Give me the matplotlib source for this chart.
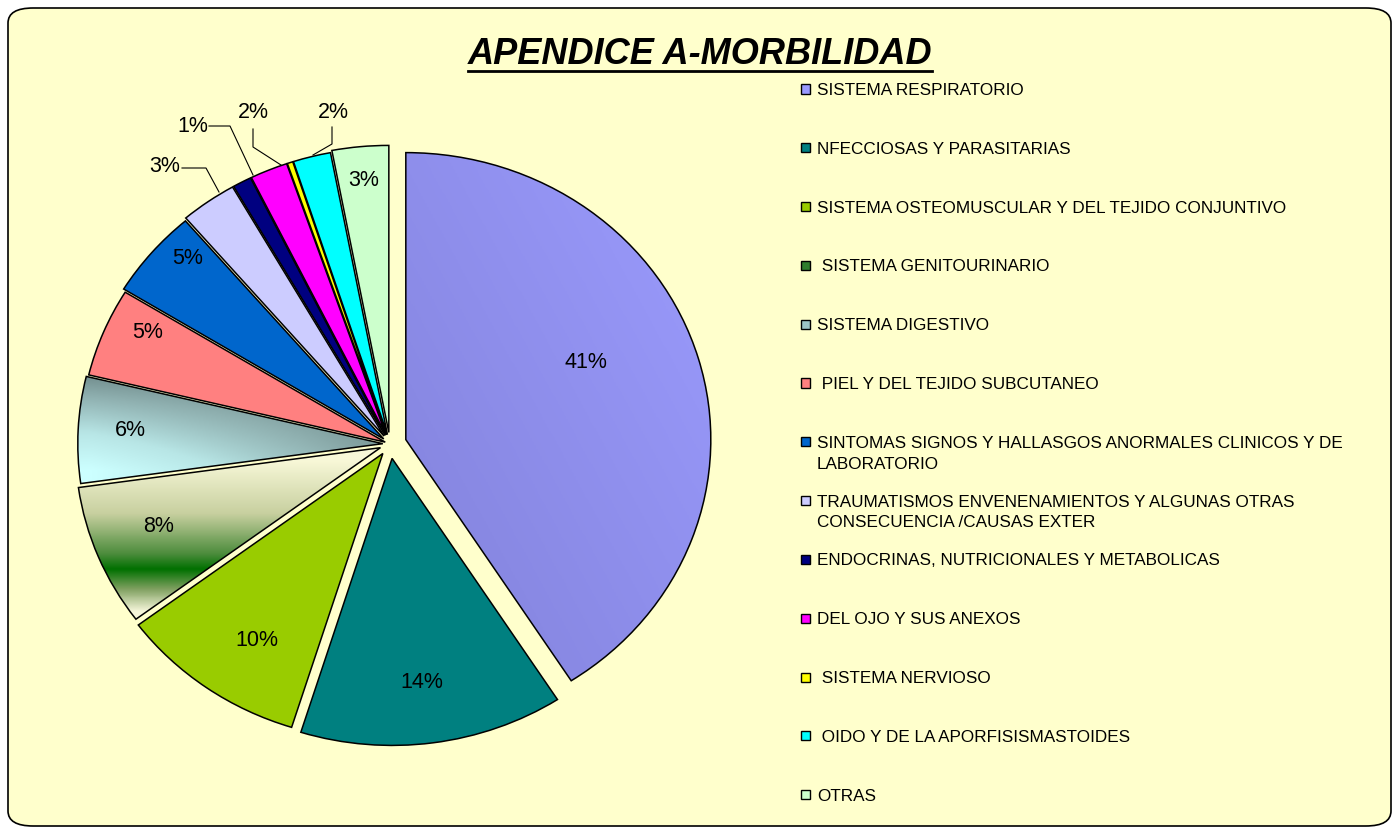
import matplotlib
matplotlib.use("Agg")
import matplotlib.pyplot as plt
import numpy as np
from matplotlib.patches import FancyBboxPatch, Rectangle
from matplotlib.lines import Line2D
from matplotlib.colors import LinearSegmentedColormap

plt.rcParams['font.family'] = ['Liberation Sans', 'DejaVu Sans']

# ---------------- data ----------------
categories = [
    "SISTEMA RESPIRATORIO",
    "NFECCIOSAS Y PARASITARIAS",
    "SISTEMA OSTEOMUSCULAR Y DEL TEJIDO CONJUNTIVO",
    " SISTEMA GENITOURINARIO",
    "SISTEMA DIGESTIVO",
    " PIEL Y DEL TEJIDO SUBCUTANEO",
    "SINTOMAS SIGNOS Y HALLASGOS ANORMALES CLINICOS Y DE\nLABORATORIO",
    "TRAUMATISMOS ENVENENAMIENTOS Y ALGUNAS OTRAS\nCONSECUENCIA /CAUSAS EXTER",
    "ENDOCRINAS, NUTRICIONALES Y METABOLICAS",
    "DEL OJO Y SUS ANEXOS",
    " SISTEMA NERVIOSO",
    " OIDO Y DE LA APORFISISMASTOIDES",
    "OTRAS",
]
values = [41, 14, 10, 8, 6, 5, 5, 3, 1, 2, 0.3, 2, 3]
colors = ["#9999FF", "#008080", "#99CC00", "#2E7D2E", "#9CC4C4", "#FF8080",
          "#0066CC", "#CCCCFF", "#000080", "#FF00FF", "#FFFF00", "#00FFFF", "#CCFFCC"]
explode_px = [16, 15, 12, 10, 7, 5, 8, 10, 10, 10, 10, 10, 12]

W, H = 1399, 834
fig = plt.figure(figsize=(W / 100, H / 100), dpi=100, facecolor="white")

# rounded background panel
bg = FancyBboxPatch((8 / W, 8 / H), (W - 16) / W, (H - 16) / H,
                    boxstyle="round,pad=0,rounding_size=0.018",
                    transform=fig.transFigure, facecolor="#FFFFCC",
                    edgecolor="black", linewidth=1.2, zorder=-10)
fig.patches.append(bg)

# pie axes: center pixel, horizontal / vertical radius in px
cx, cy = 390, 444
rx, ry = 305, 287
lim = 1.25
ax = fig.add_axes([(cx - lim * rx) / W, (H - cy - lim * ry) / H,
                   2 * lim * rx / W, 2 * lim * ry / H])
ax.patch.set_alpha(0)
ax.set_zorder(1)

total = sum(values)
explode = [p / 296.0 for p in explode_px]
wedges, _ = ax.pie(values, colors=colors, explode=explode, startangle=90,
                   counterclock=False,
                   wedgeprops=dict(edgecolor="black", linewidth=1.1))
ax.set_aspect("auto")
ax.set_xlim(-lim, lim)
ax.set_ylim(-lim, lim)
ax.axis("off")

def px2d(px, py):
    return ((px - cx) / rx, (cy - py) / ry)

# gradients on some wedges
def grad_fill(w, img, cmap):
    im = ax.imshow(img, extent=(-lim, lim, -lim, lim), origin="lower",
                   cmap=cmap, vmin=0, vmax=1, aspect="auto", zorder=1,
                   interpolation="bilinear")
    im.set_clip_path(w)
    w.set_facecolor("none")
    w.set_zorder(2)

n = 400
gx, gy = np.meshgrid(np.linspace(-lim, lim, n), np.linspace(-lim, lim, n))
PX = cx + gx * rx
PY = cy - gy * ry

# respiratorio: lighter at upper-right
cm_resp = LinearSegmentedColormap.from_list("resp", ["#8282DA", "#9C9CFF"])
t = np.clip((PX - 420) / 300 * 0.5 + (700 - PY) / 550 * 0.5, 0, 1)
grad_fill(wedges[0], t, cm_resp)

# genitourinario: cream - dark green - cream band (horizontal band)
cm_gen = LinearSegmentedColormap.from_list(
    "gen", [(0.0, "#F8F8D8"), (0.35, "#C8D0A0"), (0.62, "#4C8C3C"), (0.72, "#007000"),
            (0.85, "#7FA060"), (1.0, "#F6F6DA")])
t = np.clip((PY - 460) / (612 - 460), 0, 1)
grad_fill(wedges[3], t, cm_gen)

# digestivo: dark grey-teal at top and toward center, light cyan bottom-left
cm_dig = LinearSegmentedColormap.from_list("dig", ["#5E7676", "#8FB0B0", "#B8E6E6", "#CCFFFF"])
tv = np.clip((PY - 360) / (470 - 360), 0, 1)
th = np.clip((390 - PX) / (390 - 90), 0, 1)
t = np.clip(tv * (0.25 + 0.75 * th), 0, 1)
grad_fill(wedges[4], t, cm_dig)

# percentage labels
pct = [f"{v / total * 100:.0f}%" for v in values]
inside_pos = {0: (586, 362), 1: (422, 683), 2: (257, 641), 3: (159, 526),
              4: (130, 430), 5: (148, 332), 6: (188, 258), 12: (364, 181)}
outside_pos = {7: (165, 167), 8: (193, 127), 9: (253, 113), 11: (333, 113)}
for i, (px, py) in {**inside_pos, **outside_pos}.items():
    x, y = px2d(px, py)
    ax.text(x, y, pct[i], ha="center", va="center", fontsize=15.5, color="black", zorder=5)

# leader lines
leaders = [
    [(182, 168), (206, 168), (219, 192)],
    [(209, 126), (230, 126), (253, 175)],
    [(253, 129), (253, 147), (281, 165)],
    [(332, 127), (332, 144), (313, 155)],
]
for pts in leaders:
    xs, ys = zip(*[px2d(a, b) for a, b in pts])
    ax.plot(xs, ys, color="black", linewidth=0.8, zorder=5)

# title with underline
title = fig.text(700 / W, 1 - 54 / H, "APENDICE A-MORBILIDAD", ha="center", va="center",
                 fontsize=26, fontweight="bold", fontstyle="italic")
fig.canvas.draw()
bb = title.get_window_extent(fig.canvas.get_renderer())
uy = bb.y0 + 1
fig.add_artist(Line2D([bb.x0 / W, bb.x1 / W], [uy / H, uy / H], color="black",
                      linewidth=2, transform=fig.transFigure))

# legend
ly0, lstep = 89, 58.8
for i, (lab, col) in enumerate(zip(categories, colors)):
    y = ly0 + i * lstep
    fig.add_artist(Rectangle((801 / W, 1 - (y + 4.5) / H), 9 / W, 9 / H,
                             transform=fig.transFigure, facecolor=col,
                             edgecolor="black", linewidth=1.0))
    fig.text(817 / W, 1 - (y - 6) / H, lab, ha="left", va="top",
             fontsize=12.3, linespacing=1.48)

fig.savefig("out.png", dpi=100, facecolor="white")
